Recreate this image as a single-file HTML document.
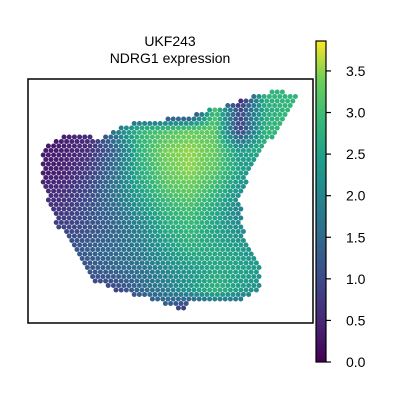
<!DOCTYPE html>
<html><head><meta charset="utf-8"><style>
html,body{margin:0;padding:0;background:#fff;width:400px;height:400px;overflow:hidden}
svg text{font-family:"Liberation Sans","DejaVu Sans",sans-serif;fill:#000}
</style></head><body>
<svg id="c" width="400" height="400" xmlns="http://www.w3.org/2000/svg">
<defs><linearGradient id="vg" x1="0" y1="1" x2="0" y2="0">
<stop offset="0" stop-color="#440154"/><stop offset="0.13" stop-color="#482878"/><stop offset="0.25" stop-color="#3e4989"/><stop offset="0.38" stop-color="#31688e"/><stop offset="0.5" stop-color="#26828e"/><stop offset="0.63" stop-color="#1f9e89"/><stop offset="0.75" stop-color="#35b779"/><stop offset="0.88" stop-color="#6ece58"/><stop offset="1" stop-color="#fde725"/></linearGradient></defs>
<text x="170" y="46" font-size="14" text-anchor="middle">UKF243</text>
<text x="170" y="63" font-size="14" text-anchor="middle">NDRG1 expression</text>
<g id="spots"></g>
<rect x="28" y="79" width="285" height="244" fill="none" stroke="#000" stroke-width="1.5"/>
<rect x="316" y="41" width="10" height="321" fill="url(#vg)" stroke="#000" stroke-width="1.2"/>
<g id="cbticks"></g>
</svg>
<script>
const colXs=[40,65,90,115,140,165,190,215,240,265,290];
const rowYs=[90,110,130,150,170,190,210,230,250,270,290,310];
const gridValues=[
[0,0,0,0,0,0,0,0,0,2.9,2.8],
[0,0,0,0,0,0,0,3.1,0.9,2.6,2.9],
[0,0.4,0.5,1.8,2.9,3.1,3.3,3.2,0.8,2.8,3.0],
[0.3,0.4,0.6,1.4,2.8,3.4,3.5,3.3,2.3,2.8,2],
[0.3,0.4,0.8,1.6,2.7,3.3,3.5,3.2,2.5,2,2],
[0.5,0.6,1.0,1.7,2.5,3.1,3.3,2.9,2.2,2,2],
[0.6,0.7,1.1,1.5,2.2,2.8,3.0,2.6,1.9,2,2],
[0.9,0.9,1.1,1.4,1.9,2.6,2.9,2.5,2.1,2,2],
[1,1.1,1.3,1.5,1.8,2.3,2.7,2.6,2.4,2,2],
[1,1,1.2,1.4,1.6,2.0,2.3,2.6,2.5,2.3,2],
[1,0.8,0.8,0.9,1.4,1.8,2.3,2.8,2.4,2,2],
[1,0.8,0.8,0.8,0.9,1.1,0.5,1,1,1,1]];
const tissueOutline=[[42,150],[65,133],[100,138],[125,124],[160,120],[200,113],[240,100],[255,94],[280,91],[300,95],[290,112],[270,140],[250,170],[240,200],[245,240],[262,265],[260,290],[240,300],[190,300],[186,312],[160,302],[120,292],[95,282],[80,262],[70,242],[55,222],[45,192],[40,165]];
const cbTicks=[0,0.5,1,1.5,2,2.5,3,3.5];
const vmin=0,vmax=3.86;
const vstops=["#440154","#482878","#3e4989","#31688e","#26828e","#1f9e89","#35b779","#6ece58","#fde725"];
function hex(c){return [1,3,5].map(i=>parseInt(c.substr(i,2),16));}
function viridis(v){let t=Math.max(0,Math.min(1,(v-vmin)/(vmax-vmin)))*(vstops.length-1);let i=Math.min(Math.floor(t),vstops.length-2),f=t-i;let a=hex(vstops[i]),b=hex(vstops[i+1]);return "rgb("+a.map((x,k)=>Math.round(x+(b[k]-x)*f)).join(",")+")";}
function inside(x,y,p){let c=false;for(let i=0,j=p.length-1;i<p.length;j=i++){const[xi,yi]=p[i],[xj,yj]=p[j];if(((yi>y)!=(yj>y))&&(x<(xj-xi)*(y-yi)/(yj-yi)+xi))c=!c;}return c;}
function valAt(x,y){let cx=(x-colXs[0])/(colXs[1]-colXs[0]),ry=(y-rowYs[0])/(rowYs[1]-rowYs[0]);cx=Math.max(0,Math.min(colXs.length-1.001,cx));ry=Math.max(0,Math.min(rowYs.length-1.001,ry));const i=Math.floor(cx),j=Math.floor(ry),fx=cx-i,fy=ry-j;const g=gridValues;return g[j][i]*(1-fx)*(1-fy)+g[j][i+1]*fx*(1-fy)+g[j+1][i]*(1-fx)*fy+g[j+1][i+1]*fx*fy;}
const NS="http://www.w3.org/2000/svg";
const sg=document.getElementById('spots');
let r=0;
for(let y=92;y<=314;y+=4.5,r++){for(let x=38+(r%2)*2.6;x<=302;x+=5.2){if(!inside(x,y,tissueOutline))continue;const c=document.createElementNS(NS,'circle');c.setAttribute('cx',x.toFixed(1));c.setAttribute('cy',y.toFixed(1));c.setAttribute('r','2.5');c.setAttribute('fill',viridis(valAt(x,y)));


sg.appendChild(c);}}
const tg=document.getElementById('cbticks');
function cbY(v){return 362-(v-vmin)/(vmax-vmin)*321;}
cbTicks.forEach(v=>{const y=cbY(v);const l=document.createElementNS(NS,'line');l.setAttribute('x1',326);l.setAttribute('x2',331);l.setAttribute('y1',y);l.setAttribute('y2',y);l.setAttribute('stroke','#000');l.setAttribute('stroke-width','1.2');


tg.appendChild(l);const t=document.createElementNS(NS,'text');t.setAttribute('x',346);t.setAttribute('y',y+5);t.setAttribute('font-size','14');t.textContent=v.toFixed(1);


tg.appendChild(t);});
</script>
</body></html>
